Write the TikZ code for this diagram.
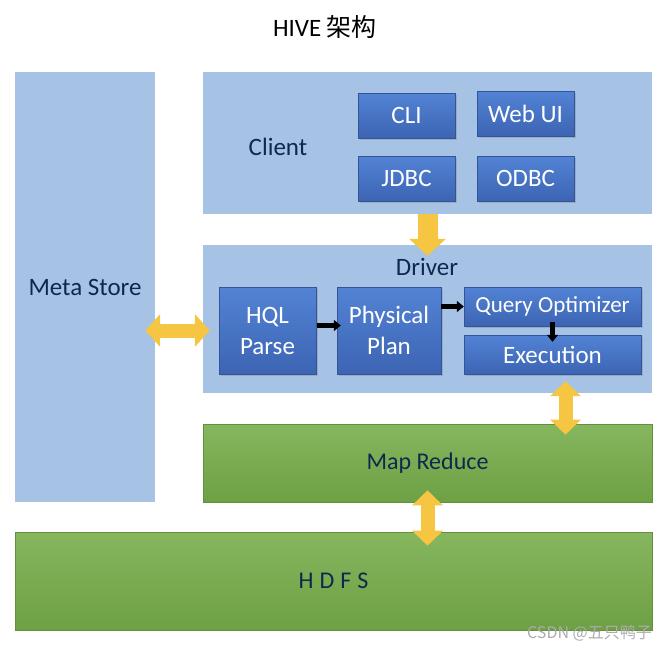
\documentclass[tikz,border=0pt]{standalone}
\usepackage{fontspec}
\setmainfont{Carlito}
\newfontfamily\cjk{Noto Sans CJK SC}
\usepackage{tikz}
\usetikzlibrary{arrows.meta,shadows}
\definecolor{panelblue}{HTML}{A6C3E6}
\definecolor{boxtop}{HTML}{5383D5}
\definecolor{boxbot}{HTML}{3C64B3}
\definecolor{greentop}{HTML}{86B65E}
\definecolor{greenbot}{HTML}{6EA044}
\definecolor{navy}{HTML}{10284F}
\definecolor{gold}{HTML}{F6C542}
\tikzstyle{panel}=[fill=panelblue,inner sep=0pt,text=navy,font=\fontsize{25}{28}\selectfont]
\tikzstyle{greenpanel}=[top color=greentop,bottom color=greenbot,draw=greenbot!90!black,line width=0.6pt,inner sep=0pt,text=navy,font=\fontsize{24}{28}\selectfont]
\tikzstyle{unit}=[top color=boxtop,bottom color=boxbot,draw=boxbot!85!black,line width=0.4pt,inner sep=0pt,text=white,align=center,
  drop shadow={shadow xshift=1.5pt,shadow yshift=-1.5pt,opacity=0.35},font=\fontsize{25}{31}\selectfont]
\tikzstyle{fat}=[line width=14pt,draw=gold]
\tikzstyle{thin}=[line width=4.5pt,draw=black,-{Triangle[length=7pt,width=11pt]}]
\begin{document}
\begin{tikzpicture}[x=1pt,y=-1pt]
        \useasboundingbox (0,0) rectangle (669,649);
        \node[font=\fontsize{25}{28}\selectfont] (title) at (325,27) {HIVE {\cjk 架构}};
        % panels
        \node[panel,minimum width=140pt,minimum height=430pt] (meta) at (85,287) {Meta Store};
        \node[panel,minimum width=449pt,minimum height=142pt] (client) at (427.5,143) {};
        \node[panel] at (278,147) {Client};
        \node[panel,minimum width=449pt,minimum height=148pt] (driver) at (427.5,319) {};
        \node[panel] at (427,267) {Driver};
        \node[greenpanel,minimum width=449pt,minimum height=78pt] (mr) at (427.5,463) {Map Reduce};
        \node[greenpanel,minimum width=637pt,minimum height=98pt] (hdfs) at (333.5,581) {H\hspace{6pt}D\hspace{6pt}F\hspace{6pt}S};
        % client units
        \node[unit,minimum width=97pt,minimum height=45pt] (cli) at (406.5,115.5) {CLI};
        \node[unit,minimum width=97pt,minimum height=45pt] (web) at (525.5,113.5) {Web UI};
        \node[unit,minimum width=97pt,minimum height=45pt] (jdbc) at (406.5,178.5) {JDBC};
        \node[unit,minimum width=97pt,minimum height=45pt] (odbc) at (525.5,178.5) {ODBC};
        % driver units
        \node[unit,minimum width=97pt,minimum height=87pt] (hql) at (267.5,330.5) {HQL\\Parse};
        \node[unit,minimum width=104pt,minimum height=87pt] (phys) at (389,330.5) {Physical\\Plan};
        \node[unit,minimum width=177pt,minimum height=39pt,font=\fontsize{23}{26}\selectfont] (qo) at (552.5,306.5) {Query Optimizer};
        \node[unit,minimum width=177pt,minimum height=39pt] (exec) at (552.5,354.5) {Execution};
        % yellow arrows
        \draw[fat,-{Triangle[length=17pt,width=36pt]},line width=20pt,shorten >=-11pt] (client.south) -- (driver.north);
        \draw[fat,{Triangle[length=15pt,width=32pt]}-{Triangle[length=15pt,width=32pt]},shorten <=-10pt,shorten >=9pt] (meta.east |- hql.west) -- (hql.west);
        \draw[fat,{Triangle[length=15pt,width=30pt]}-{Triangle[length=15pt,width=30pt]},shorten <=7pt,shorten >=-11pt] ([xshift=13pt]exec.south) -- ([xshift=13pt]exec.south |- mr.north);
        \draw[fat,{Triangle[length=15pt,width=30pt]}-{Triangle[length=15pt,width=30pt]},shorten <=-12pt,shorten >=-14pt] (mr.south) -- (mr.south |- hdfs.north);
        % black arrows
        \draw[thin,shorten <=1pt,shorten >=-4pt] ([yshift=5pt]hql.east) -- ([yshift=5pt]phys.west);
        \draw[thin,shorten >=0pt] (phys.east |- qo.west) -- (qo.west);
        \draw[thin,shorten <=-4pt,shorten >=-7pt] (qo.south) -- (exec.north);
        \node[anchor=south east,inner sep=0pt,text=gray!65,font=\cjk\fontsize{16}{17}\selectfont] (mark) at (652,641) {CSDN @五只鸭子};
      \end{tikzpicture}
\end{document}
